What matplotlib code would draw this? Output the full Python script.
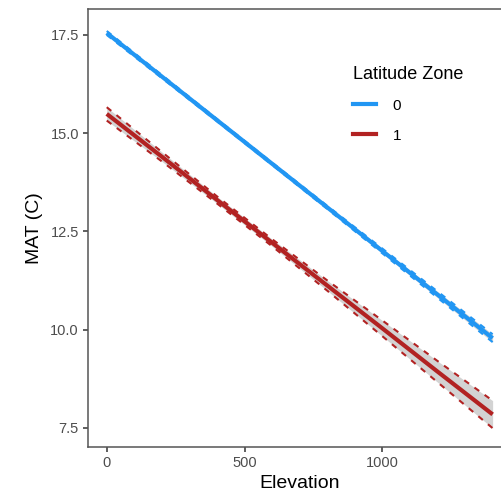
import numpy as np
import matplotlib.pyplot as plt
from matplotlib.lines import Line2D

# values (fitted line and 95% band)
elevation = [0, 200, 400, 600, 800, 1000, 1200, 1400]
zone0_fit = [17.55, 16.44, 15.33, 14.22, 13.11, 12.00, 10.89, 9.78]
zone0_half = [0.05, 0.04, 0.03, 0.03, 0.04, 0.06, 0.08, 0.10]
zone1_fit = [15.49, 14.40, 13.30, 12.21, 11.12, 10.03, 8.93, 7.84]
zone1_half = [0.17, 0.12, 0.09, 0.09, 0.13, 0.20, 0.27, 0.35]
zones = ["0", "1"]
colors = ["#2196F3", "#B22222"]

plt.rcParams['font.family'] = ['Liberation Sans', 'DejaVu Sans']

fig = plt.figure(figsize=(5.02, 4.91), dpi=100)
ax = fig.add_axes([88 / 502, 44 / 491, 414 / 502, 438 / 491])

x = np.array(elevation)
for fit, half, col in [(zone0_fit, zone0_half, colors[0]), (zone1_fit, zone1_half, colors[1])]:
    fit = np.array(fit)
    half = np.array(half)
    ax.fill_between(x, fit - half, fit + half, color="#D3D3D3", lw=0, zorder=1)
    ax.plot(x, fit - half, color=col, lw=1.5, ls=(0, (2.8, 3.2)), zorder=2)
    ax.plot(x, fit + half, color=col, lw=1.5, ls=(0, (2.8, 3.2)), zorder=2)
    ax.plot(x, fit, color=col, lw=3, solid_capstyle='butt', zorder=3)

ax.set_xlim(-68, 1434)
ax.set_ylim(7.01, 18.16)
ax.set_xticks([0, 500, 1000])
ax.set_yticks([7.5, 10.0, 12.5, 15.0, 17.5])
ax.set_yticklabels(["7.5", "10.0", "12.5", "15.0", "17.5"])
ax.tick_params(colors="#333333", labelcolor="#4D4D4D", labelsize=10.5, length=3.5, width=1.1, pad=3)
for s in ["left", "bottom", "top"]:
    ax.spines[s].set_color("#555555")
    ax.spines[s].set_linewidth(1.1)
ax.spines["right"].set_visible(False)

ax.set_xlabel("Elevation", fontsize=14, labelpad=1)
ax.xaxis.set_label_coords((300 - 88) / 414, -0.064)
ax.set_ylabel("MAT (C)", fontsize=14, labelpad=5)

handles = [Line2D([0], [0], color=c, lw=3) for c in colors]
leg = fig.legend(handles, zones, title="Latitude Zone", loc="upper left",
                 bbox_to_anchor=(339 / 502, 1 - 52 / 491), frameon=False,
                 fontsize=11, title_fontsize=13, handlelength=1.5,
                 labelspacing=1.05, handletextpad=1.1)
leg._legend_box.align = "left"

fig.savefig("out.png", dpi=100)
